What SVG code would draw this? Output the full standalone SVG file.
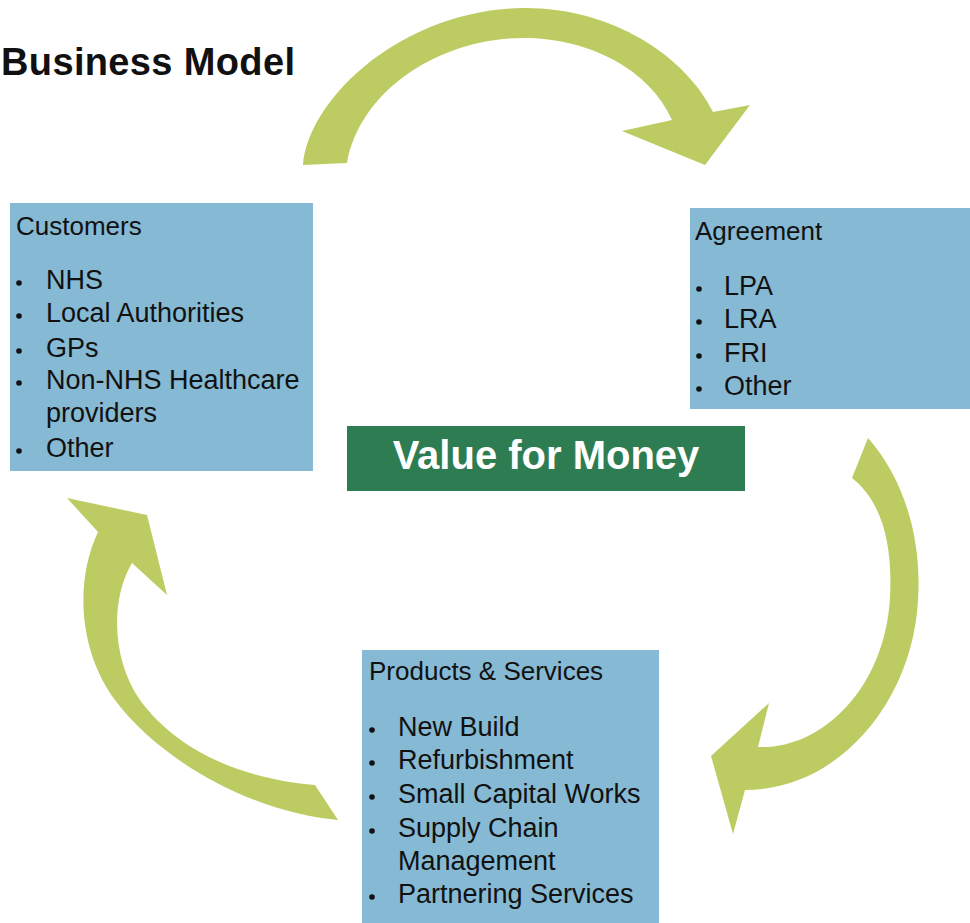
<svg xmlns="http://www.w3.org/2000/svg" width="970" height="923" viewBox="0 0 970 923">
<style>
.arrow{fill:#bccc62}
.box{fill:#86b9d3}
.h{font-family:"Liberation Sans",Arial,sans-serif;font-size:26px;fill:#111}
.t{font-family:"Liberation Sans",Arial,sans-serif;font-size:27px;fill:#111}
.dot{fill:#111}
.title{font-family:"Liberation Sans",Arial,sans-serif;font-size:38px;font-weight:bold;fill:#111}
.vfm{font-family:"Liberation Sans",Arial,sans-serif;font-size:40px;font-weight:bold;fill:#fff}
</style>
<rect width="970" height="923" fill="#fff"/>
<text class="title" x="1" y="75" textLength="294">Business Model</text>
<g id="connectors">
<path class="arrow" d="M303,165 C308,100 400,10 523,8 C610,7 685,55 713,112 L750,105 L705,165 L622,131 L672,120 C650,70 590,38 523,38 C440,38 360,90 347,163 Z"/>
<path class="arrow" d="M868,438 C905,480 922,540 918,600 C913,700 840,790 745,790 L733,834 L711,756 L769,703 L758,747 C820,750 885,690 890,597 C893,540 880,500 852,478 Z"/>
<path class="arrow" d="M67,498 L147,515 L167,595 L132,563 C110,600 112,660 140,700 C180,755 250,780 315,785 L338,820 C250,812 160,760 115,700 C78,650 75,580 98,532 Z"/>
</g>
<g id="customers">
<rect class="box" x="10" y="203" width="303" height="268"/>
<text class="h" x="16" y="235">Customers</text>
<circle class="dot" cx="19" cy="283" r="2.8"/><text class="t" x="46" y="289">NHS</text>
<circle class="dot" cx="19" cy="316" r="2.8"/><text class="t" x="46" y="322">Local Authorities</text>
<circle class="dot" cx="19" cy="351" r="2.8"/><text class="t" x="46" y="357">GPs</text>
<circle class="dot" cx="19" cy="383" r="2.8"/><text class="t" x="46" y="389">Non-NHS Healthcare</text>
<text class="t" x="46" y="422">providers</text>
<circle class="dot" cx="19" cy="451" r="2.8"/><text class="t" x="46" y="457">Other</text>
</g>
<g id="agreement">
<rect class="box" x="690" y="208" width="280" height="201"/>
<text class="h" x="695" y="240">Agreement</text>
<circle class="dot" cx="699" cy="289" r="2.8"/><text class="t" x="724" y="295">LPA</text>
<circle class="dot" cx="699" cy="322" r="2.8"/><text class="t" x="724" y="328">LRA</text>
<circle class="dot" cx="699" cy="356" r="2.8"/><text class="t" x="724" y="362">FRI</text>
<circle class="dot" cx="699" cy="389" r="2.8"/><text class="t" x="724" y="395">Other</text>
</g>
<g id="value">
<rect x="347" y="426" width="398" height="65" fill="#2e7d52"/>
<text class="vfm" x="546" y="469" text-anchor="middle">Value for Money</text>
</g>
<g id="products">
<rect class="box" x="362" y="650" width="297" height="273"/>
<text class="h" x="369" y="680">Products &amp; Services</text>
<circle class="dot" cx="372" cy="730" r="2.8"/><text class="t" x="398" y="736">New Build</text>
<circle class="dot" cx="372" cy="763" r="2.8"/><text class="t" x="398" y="769">Refurbishment</text>
<circle class="dot" cx="372" cy="797" r="2.8"/><text class="t" x="398" y="803">Small Capital Works</text>
<circle class="dot" cx="372" cy="831" r="2.8"/><text class="t" x="398" y="837">Supply Chain</text>
<text class="t" x="398" y="870">Management</text>
<circle class="dot" cx="372" cy="897" r="2.8"/><text class="t" x="398" y="903">Partnering Services</text>
</g>
</svg>
